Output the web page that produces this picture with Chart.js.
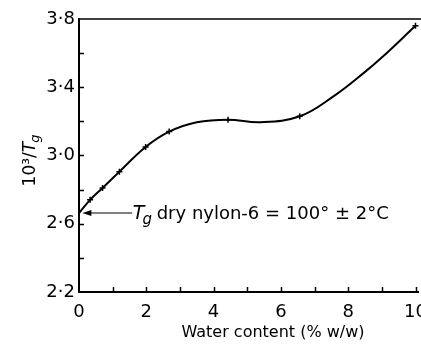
<!DOCTYPE html>
<html>
<head>
<meta charset="utf-8">
<script src="https://cdn.jsdelivr.net/npm/chart.js@4"></script>
<style>
  html, body { margin: 0; padding: 0; background: #fff; }
  #wrap { width: 421px; height: 345px; }
</style>
</head>
<body>
<div id="wrap"><canvas id="chart"></canvas></div>
<script>
// measured points (small crosses)
const pointX = [0.33, 0.70, 1.20, 1.98, 2.68, 4.43, 6.56, 10.0];
const pointY = [2.74, 2.81, 2.905, 3.05, 3.14, 3.21, 3.23, 3.76];

// smooth curve drawn through them
const curveX = [0, 0.33, 0.70, 1.20, 1.98, 2.68, 3.5, 4.43, 5.4, 6.56, 7.55, 8.5, 9.03, 10.0];
const curveY = [2.663, 2.74, 2.81, 2.905, 3.05, 3.14, 3.195, 3.21, 3.195, 3.23, 3.345, 3.49, 3.58, 3.76];

const yTickLabels = { '3.8': '3·8', '3.4': '3·4', '3': '3·0', '2.6': '2·6', '2.2': '2·2' };
const xTickLabels = ['0', '2', '4', '6', '8', '10'];

const annotY = 2.663;
const annotText = ' dry nylon-6 = 100° ± 2°C';

const FONT = '"DejaVu Sans", sans-serif';

const toXY = (xs, ys) => xs.map((x, i) => ({ x: x, y: ys[i] }));

// inward ticks, frame lines, arrow, titles
const decorations = {
  id: 'decorations',
  afterDraw(chart) {
    const ctx = chart.ctx;
    const xs = chart.scales.x, ys = chart.scales.y;
    const a = chart.chartArea;
    ctx.save();
    ctx.strokeStyle = '#000';
    ctx.fillStyle = '#000';

    // top and bottom lines run on to the page edge
    ctx.lineWidth = 1.5;
    ctx.beginPath();
    ctx.moveTo(a.left, a.top);
    ctx.lineTo(chart.width, a.top);
    ctx.stroke();
    ctx.lineWidth = 2;
    ctx.beginPath();
    ctx.moveTo(a.left, a.bottom);
    ctx.lineTo(chart.width - 2, a.bottom);
    ctx.stroke();

    ctx.lineWidth = 1.5;
    // y ticks every 0.2, inside
    for (let v = 2.4; v < 3.79; v += 0.2) {
      const py = Math.round(ys.getPixelForValue(v)) + 0.5;
      ctx.beginPath();
      ctx.moveTo(a.left, py);
      ctx.lineTo(a.left + 5, py);
      ctx.stroke();
    }
    // x ticks every 1, inside
    for (let v = 1; v <= 10; v += 1) {
      const px = Math.round(xs.getPixelForValue(v)) + 0.5;
      ctx.beginPath();
      ctx.moveTo(px, a.bottom);
      ctx.lineTo(px, a.bottom - 5);
      ctx.stroke();
    }

    // arrow pointing at the dry value
    const ay = ys.getPixelForValue(annotY);
    const ax0 = xs.getPixelForValue(0.1);
    const ax1 = xs.getPixelForValue(1.58);
    ctx.lineWidth = 1.2;
    ctx.beginPath();
    ctx.moveTo(ax0 + 6, ay);
    ctx.lineTo(ax1, ay);
    ctx.stroke();
    ctx.beginPath();
    ctx.moveTo(ax0, ay);
    ctx.lineTo(ax0 + 9, ay - 3);
    ctx.lineTo(ax0 + 9, ay + 3);
    ctx.closePath();
    ctx.fill();

    // annotation text
    ctx.textBaseline = 'alphabetic';
    ctx.textAlign = 'left';
    let tx = xs.getPixelForValue(1.6);
    const ty = ay + 6;
    ctx.font = 'italic 19px ' + FONT;
    ctx.fillText('T', tx, ty);
    tx += ctx.measureText('T').width - 2;
    ctx.font = 'italic 15px ' + FONT;
    ctx.fillText('g', tx, ty + 5);
    tx += ctx.measureText('g').width - 1;
    ctx.font = '18px ' + FONT;
    ctx.fillText(annotText, tx, ty);

    // x title
    ctx.font = '16px ' + FONT;
    ctx.textAlign = 'center';
    ctx.textBaseline = 'middle';
    ctx.fillText('Water content (% w/w)', 273, 333);

    // y title, rotated
    ctx.translate(31, 160);
    ctx.rotate(-Math.PI / 2);
    ctx.textAlign = 'left';
    ctx.font = '17px ' + FONT;
    const w1 = ctx.measureText('10³/').width;
    ctx.font = 'italic 17px ' + FONT;
    const w2 = ctx.measureText('T').width;
    ctx.font = 'italic 13px ' + FONT;
    const w3 = ctx.measureText('g').width;
    let sx = -(w1 + w2 + w3) / 2;
    ctx.font = '17px ' + FONT;
    ctx.fillText('10³/', sx, 0);
    sx += w1;
    ctx.font = 'italic 17px ' + FONT;
    ctx.fillText('T', sx, 0);
    sx += w2 - 1;
    ctx.font = 'italic 13px ' + FONT;
    ctx.fillText('g', sx, 5);
    ctx.restore();
  }
};

new Chart(document.getElementById('chart'), {
  type: 'scatter',
  data: {
    datasets: [
      {
        type: 'line',
        data: toXY(curveX, curveY),
        borderColor: '#000',
        borderWidth: 2,
        pointRadius: 0,
        tension: 0.4,
        fill: false,
        clip: false
      },
      {
        data: toXY(pointX, pointY),
        pointStyle: 'cross',
        pointRadius: 3,
        borderColor: '#000',
        borderWidth: 1.5,
        backgroundColor: '#000',
        clip: false
      }
    ]
  },
  plugins: [decorations],
  options: {
    responsive: true,
    maintainAspectRatio: false,
    animation: false,
    layout: { padding: { top: 19, right: -6, left: 0, bottom: 0 } },
    plugins: {
      legend: { display: false },
      tooltip: { enabled: false }
    },
    scales: {
      x: {
        type: 'linear',
        min: 0,
        max: 10,
        afterFit: s => { s.height = 53; s.paddingLeft = 0; s.paddingRight = 0; },
        afterBuildTicks: s => { s.ticks = xTickLabels.map(t => ({ value: Number(t) })); },
        border: { display: false },
        grid: { display: false },
        ticks: {
          color: '#000',
          font: { family: FONT, size: 18 },
          padding: 2,
          maxRotation: 0,
          callback: v => String(v)
        }
      },
      y: {
        min: 2.2,
        max: 3.8,
        afterFit: s => { s.width = 79; },
        afterBuildTicks: s => { s.ticks = Object.keys(yTickLabels).map(t => ({ value: Number(t) })); },
        border: { display: true, color: '#000', width: 2 },
        grid: { display: false },
        ticks: {
          color: '#000',
          font: { family: FONT, size: 18 },
          padding: -4,
          callback: v => yTickLabels[String(Math.round(v * 10) / 10)] || ''
        }
      }
    }
  }
});
</script>
</body>
</html>
